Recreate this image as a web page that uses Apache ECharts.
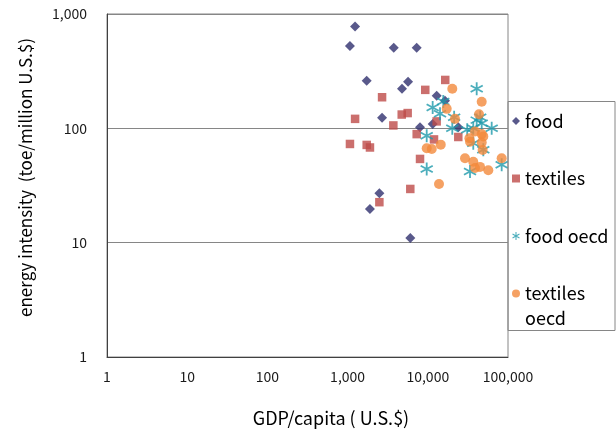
<!DOCTYPE html>
<html>
<head>
<meta charset="utf-8">
<script src="https://cdn.jsdelivr.net/npm/echarts@6/dist/echarts.min.js"></script>
<style>
  html, body { margin: 0; padding: 0; background: #fff; }
  #chart { width: 616px; height: 429px; }
</style>
</head>
<body>
<div id="chart"></div>
<script>
// [GDP per capita, energy intensity]
const food = [
  [1240, 776], [1070, 526], [3760, 508], [7270, 508], [1730, 261], [5670, 255],
  [4770, 222], [12900, 193], [16400, 174], [2690, 124], [8000, 102], [11500, 109],
  [24000, 102], [2490, 27], [1900, 19.7], [6050, 11]
];
const textiles = [
  [16500, 265], [9300, 217], [2690, 187], [1240, 121], [4730, 132], [5610, 136],
  [3720, 106], [12900, 115], [7270, 89], [11950, 80], [24000, 84], [1070, 73],
  [1730, 71.6], [1900, 68], [8000, 54], [6050, 29.5], [2490, 22.6]
];
const foodOecd = [
  [11500, 152], [15600, 172], [14200, 134], [21300, 125], [20200, 100], [9690, 86],
  [40700, 222], [40700, 118], [47000, 111], [62600, 100], [36900, 100], [31000, 97],
  [9690, 44], [33600, 42], [83400, 48], [49200, 65], [36900, 74], [45000, 125]
];
const textilesOecd = [
  [20200, 222], [47000, 171], [17200, 148], [43500, 133], [21800, 121], [38800, 94],
  [47000, 89], [33000, 82], [49200, 85], [33600, 76.5], [47000, 75], [14500, 72],
  [9690, 67], [11200, 66], [48300, 64.7], [29100, 54.7], [36900, 51], [44800, 46],
  [56800, 43], [38800, 45], [83400, 54.7], [13800, 32.6]
];

const font = '"Noto Sans CJK JP", "Noto Sans", sans-serif';

// asterisk marker: three thin bars
function asteriskPath() {
  const L = 10, w = 1.3;
  let p = '';
  [0, 60, 120].forEach(a => {
    const t = a * Math.PI / 180;
    const dx = Math.sin(t), dy = -Math.cos(t);
    const nx = Math.cos(t), ny = Math.sin(t);
    const pts = [
      [L * dx + w * nx, L * dy + w * ny],
      [L * dx - w * nx, L * dy - w * ny],
      [-L * dx - w * nx, -L * dy - w * ny],
      [-L * dx + w * nx, -L * dy + w * ny]
    ];
    p += 'M' + pts.map(q => q[0].toFixed(2) + ',' + q[1].toFixed(2)).join('L') + 'Z';
  });
  return 'path://' + p;
}

const fmt = v => Math.round(v).toLocaleString('en-US');

let myChart = echarts.init(document.getElementById('chart'));
let option = {
  animation: false,
  textStyle: { fontFamily: font },
  grid: {
    left: 107,
    right: 108,
    top: 14,
    bottom: 72,
    outerBoundsMode: 'none',
    show: true,
    borderColor: '#868686',
    borderWidth: 1
  },
  legend: {
    orient: 'vertical',
    left: 512,
    top: 108.5,
    padding: 0,
    itemGap: 32.5,
    itemWidth: 8,
    itemHeight: 8,
    textStyle: { color: '#000', fontSize: 18, lineHeight: 25, fontFamily: font },
    formatter: name => (name === 'textiles oecd' ? 'textiles' : name),
    data: ['food', 'textiles', 'food oecd', 'textiles oecd']
  },
  graphic: [
    {
      type: 'rect',
      z: 5,
      silent: true,
      shape: { x: 508, y: 101.5, width: 107, height: 229 },
      style: { fill: 'rgba(255,255,255,0)', stroke: '#868686', lineWidth: 1 }
    },
    {
      // second line of the "textiles oecd" legend entry
      type: 'text',
      z: 5,
      silent: true,
      left: 525,
      top: 306,
      style: { text: 'oecd', fill: '#000', fontSize: 18, lineHeight: 25, fontFamily: font }
    }
  ],
  xAxis: {
    type: 'log',
    logBase: 10,
    min: 1,
    max: 100000,
    name: 'GDP/capita ( U.S.$)',
    nameLocation: 'middle',
    nameGap: 52,
    nameTextStyle: { color: '#000', fontSize: 18, padding: [0, 0, 0, 47] },
    axisLine: { show: true, lineStyle: { color: '#404040' } },
    axisTick: { show: false },
    splitLine: { show: false },
    axisLabel: { color: '#1a1a1a', fontSize: 14, margin: 13, formatter: fmt }
  },
  yAxis: {
    type: 'log',
    logBase: 10,
    min: 1,
    max: 1000,
    name: 'energy intensity  (toe/million U.S.$)',
    nameLocation: 'middle',
    nameGap: 73,
    nameTextStyle: { color: '#000', fontSize: 17, padding: [0, 0, 0, 16] },
    axisLine: { show: true, lineStyle: { color: '#404040' } },
    axisTick: { show: false },
    splitLine: { show: true, lineStyle: { color: '#868686' } },
    axisLabel: { color: '#1a1a1a', fontSize: 14, margin: 20, formatter: fmt }
  },
  series: [
    {
      name: 'food',
      type: 'scatter',
      symbol: 'diamond',
      symbolSize: 10,
      itemStyle: { color: '#2f2f6e' },
      data: food
    },
    {
      name: 'textiles',
      type: 'scatter',
      symbol: 'rect',
      symbolSize: 8.5,
      itemStyle: { color: '#be4b48' },
      data: textiles
    },
    {
      name: 'food oecd',
      type: 'scatter',
      symbol: asteriskPath(),
      symbolSize: 13,
      itemStyle: { color: '#1f9aab' },
      data: foodOecd
    },
    {
      name: 'textiles oecd',
      type: 'scatter',
      symbol: 'circle',
      symbolSize: 10,
      itemStyle: { color: '#f28a3c' },
      data: textilesOecd
    }
  ]
};

myChart.setOption(option);
</script>
</body>
</html>
